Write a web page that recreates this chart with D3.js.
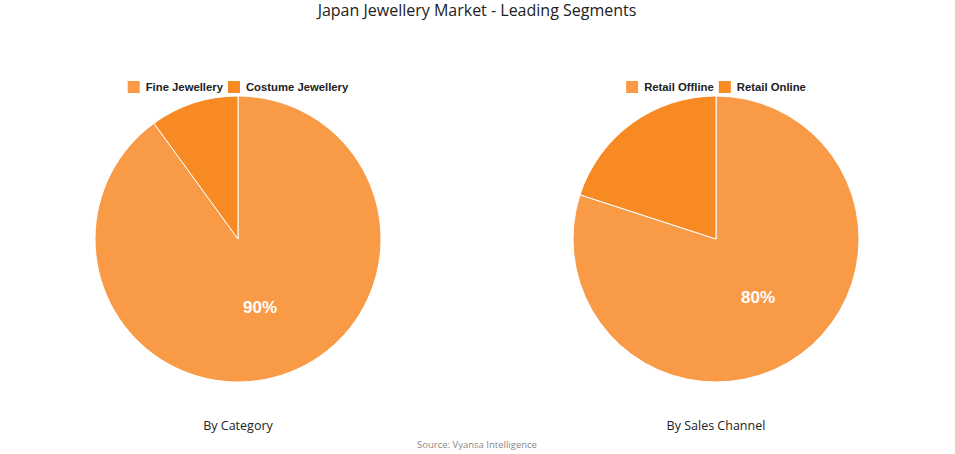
<!DOCTYPE html>
<html><head><meta charset="utf-8">
<script src="https://cdn.jsdelivr.net/npm/d3@7"></script>
<style>body{margin:0;background:#fff;}svg{display:block;}</style>
</head><body>
<svg id="c" width="955" height="454"></svg>
<script>
const title = "Japan Jewellery Market - Leading Segments";
const source = "Source: Vyansa Intelligence";
const catLabels = ["Fine Jewellery", "Costume Jewellery"];
const catValues = [90, 10];
const chanLabels = ["Retail Offline", "Retail Online"];
const chanValues = [80, 20];
const subtitles = ["By Category", "By Sales Channel"];
const colors = ["#F99A47", "#F78A22"];

const svg = d3.select("#c");
svg.append("text").attr("x", 477).attr("y", 15.5).attr("text-anchor", "middle")
  .attr("font-family", "'Open Sans', sans-serif").attr("font-size", 16).attr("fill", "#222")
  .text(title);
svg.append("text").attr("x", 477).attr("y", 448).attr("text-anchor", "middle")
  .attr("font-family", "'Open Sans', sans-serif").attr("font-size", 9.5).attr("fill", "#888")
  .text(source);

function drawPie(cx, labels, values, sub) {
  const r = 143, cy = 239;
  const g = svg.append("g").attr("transform", `translate(${cx},${cy})`);
  const pie = d3.pie().sort(null).value(d => d)(values);
  const arc = d3.arc().innerRadius(0).outerRadius(r);
  const color = d3.scaleOrdinal().domain(labels).range(colors);
  g.selectAll("path").data(pie).join("path")
    .attr("d", arc).attr("fill", (d, i) => color(labels[i]))
    .attr("stroke", "#fff").attr("stroke-width", 1);
  const total = d3.sum(values);
  g.selectAll("text.lbl").data(pie.filter(d => d.value / total >= 0.5)).join("text")
    .attr("class", "lbl")
    .attr("transform", d => `translate(${arc.centroid(d)})`)
    .attr("text-anchor", "middle").attr("dy", "0.35em")
    .attr("font-family", "'Liberation Sans', Arial, sans-serif").attr("font-weight", "bold")
    .attr("font-size", 17).attr("fill", "#fff")
    .text(d => Math.round(d.value / total * 100) + "%");
  // legend
  const lg = svg.append("g");
  const fs = 11.3;
  const ctx = document.createElement("canvas").getContext("2d");
  ctx.font = `bold ${fs}px 'Liberation Sans', Arial`;
  const sw = 12, gap = 6, itemGap = 5;
  const widths = labels.map(l => sw + gap + ctx.measureText(l).width);
  const totalW = d3.sum(widths) + itemGap * (labels.length - 1);
  let x = cx - totalW / 2;
  labels.forEach((l, i) => {
    lg.append("rect").attr("x", x).attr("y", 81).attr("width", sw).attr("height", sw).attr("fill", color(l));
    lg.append("text").attr("x", x + sw + gap).attr("y", 91)
      .attr("font-family", "'Liberation Sans', Arial, sans-serif").attr("font-weight", "bold")
      .attr("font-size", fs).attr("fill", "#222").text(l);
    x += widths[i] + itemGap;
  });
  svg.append("text").attr("x", cx).attr("y", 430).attr("text-anchor", "middle")
    .attr("font-family", "'Open Sans', sans-serif").attr("font-size", 12.5).attr("fill", "#222")
    .text(sub);
}
drawPie(238, catLabels, catValues, subtitles[0]);
drawPie(716, chanLabels, chanValues, subtitles[1]);
</script>
</body></html>
